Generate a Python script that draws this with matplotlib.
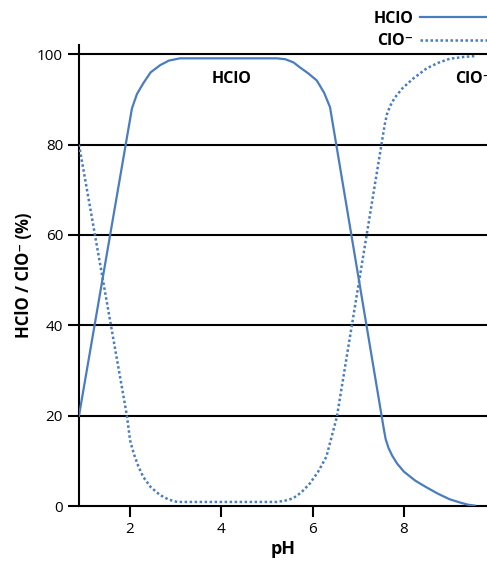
import matplotlib
matplotlib.use("Agg")
import matplotlib.pyplot as plt

plt.rcParams['font.family'] = ['Open Sans', 'DejaVu Sans']

# values (pH, % of species)
ph_hclo = [0.88, 2.04, 2.15, 2.29, 2.45, 2.66, 2.85, 3.09, 5.22, 5.40, 5.58,
           5.72, 5.90, 6.09, 6.25, 6.38, 7.56, 7.60, 7.66, 7.74, 7.85, 8.00,
           8.25, 8.50, 8.75, 9.00, 9.22, 9.40, 9.55]
hclo = [20.0, 88.0, 91.2, 93.6, 96.0, 97.6, 98.6, 99.1, 99.1, 98.9, 98.2,
        97.1, 95.8, 94.2, 91.5, 88.3, 17.0, 14.8, 12.9, 11.2, 9.4, 7.6,
        5.6, 4.1, 2.7, 1.5, 0.8, 0.3, 0.1]

ph_clo = [0.88, 1.93, 2.00, 2.08, 2.18, 2.29, 2.45, 2.66, 2.85, 3.03, 5.22,
          5.40, 5.57, 5.75, 5.94, 6.12, 6.30, 6.53, 7.58, 7.63, 7.70, 7.80,
          7.97, 8.20, 8.50, 8.75, 9.00, 9.30, 9.55]
clo = [80.0, 20.0, 14.5, 11.6, 8.8, 6.4, 4.2, 2.4, 1.4, 0.9, 0.9,
       1.2, 1.7, 3.0, 5.0, 7.6, 10.9, 19.7, 84.5, 86.8, 88.6, 90.4,
       92.5, 94.6, 96.9, 98.1, 99.0, 99.4, 99.6]

yticks = [0, 20, 40, 60, 80, 100]
xticks = [2, 4, 6, 8]

blue = '#4A7CC0'

fig = plt.figure(figsize=(4.87, 5.64), dpi=100)
ax = fig.add_axes([0.1622, 0.1028, 0.8378, 0.817])

for y in yticks[1:]:
    ax.axhline(y, color='black', lw=1.5, zorder=1)

l1, = ax.plot(ph_hclo, hclo, color=blue, lw=1.6, label='HClO', zorder=3)
l2, = ax.plot(ph_clo, clo, color=blue, lw=1.8, ls=(0, (1, 1)), label='ClO⁻', zorder=3)

ax.set_xlim(0.88, 9.82)
ax.set_ylim(0, 102)
ax.set_xticks(xticks)
ax.set_yticks(yticks)
ax.tick_params(axis='both', labelsize=11, width=1.5, length=8, color='black')

for s in ['top', 'right']:
    ax.spines[s].set_visible(False)
for s in ['left', 'bottom']:
    ax.spines[s].set_linewidth(1.5)

ax.set_xlabel('pH', fontsize=13, fontweight='bold', labelpad=2)
ax.set_ylabel('HClO / ClO⁻ (%)', fontsize=12, fontweight='bold', labelpad=3)

ax.text(4.23, 94.5, 'HClO', fontsize=11.5, fontweight='bold', ha='center', va='center')
ax.text(9.13, 94.5, 'ClO⁻', fontsize=11.5, fontweight='bold', ha='left', va='center', clip_on=False)

fig.legend(handles=[l1, l2], loc='upper right', bbox_to_anchor=(1.024, 0.998),
           frameon=False, markerfirst=False, handlelength=4.3, labelspacing=0.42,
           prop={'weight': 'bold', 'size': 11.5}, borderaxespad=0.2, handletextpad=0.45)

fig.savefig('out.png', dpi=100)
